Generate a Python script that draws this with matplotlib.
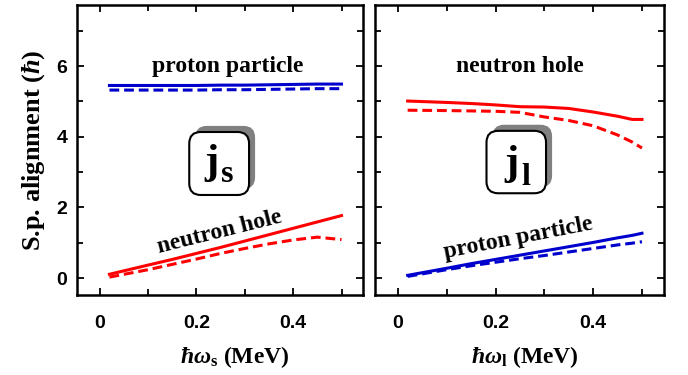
import numpy as np
import matplotlib
matplotlib.use("Agg")
import matplotlib.pyplot as plt
from matplotlib.ticker import MultipleLocator
from matplotlib.patches import FancyBboxPatch

# fonts: Times-like serif for labels, Arial-like bold for tick numbers
plt.rcParams['font.family'] = ['Liberation Serif', 'DejaVu Serif']
plt.rcParams['font.weight'] = 'bold'
plt.rcParams['axes.labelweight'] = 'bold'
plt.rcParams['mathtext.fontset'] = 'custom'
plt.rcParams['mathtext.rm'] = 'Liberation Serif:bold'
plt.rcParams['mathtext.bf'] = 'Liberation Serif:bold'
plt.rcParams['mathtext.it'] = 'Liberation Serif:bold:italic'

# left panel (j_s)
x_s = [0.02, 0.1, 0.15, 0.2, 0.25, 0.3, 0.35, 0.4, 0.45, 0.5]
prot_s_full = [5.45, 5.45, 5.45, 5.45, 5.46, 5.46, 5.47, 5.48, 5.49, 5.49]
prot_s_dash = [5.32, 5.32, 5.32, 5.32, 5.33, 5.33, 5.34, 5.35, 5.36, 5.36]
neut_s_full = [0.11, 0.37, 0.53, 0.70, 0.87, 1.05, 1.23, 1.41, 1.59, 1.77]
neut_s_dash = [0.03, 0.24, 0.39, 0.54, 0.70, 0.84, 0.97, 1.08, 1.16, 1.09]

# right panel (j_l)
x_l = [0.02, 0.1, 0.15, 0.2, 0.25, 0.3, 0.35, 0.4, 0.45, 0.48, 0.5]
neut_l_full = [5.01, 4.97, 4.94, 4.90, 4.85, 4.84, 4.80, 4.70, 4.58, 4.49, 4.49]
neut_l_dash = [4.75, 4.74, 4.73, 4.72, 4.69, 4.56, 4.46, 4.31, 4.05, 3.85, 3.68]
prot_l_full = [0.08, 0.28, 0.41, 0.53, 0.65, 0.77, 0.89, 1.01, 1.14, 1.21, 1.27]
prot_l_dash = [0.05, 0.24, 0.35, 0.45, 0.55, 0.64, 0.74, 0.84, 0.94, 0.99, 1.03]

xticks = [0, 0.2, 0.4]
yticks = [0, 2, 4, 6]

RED = '#ff0000'
BLUE = '#0000cc'
lw = 2.2
dash = (0, (3.2, 1.6))

fig = plt.figure(figsize=(6.88, 3.75), dpi=100)
ax1 = fig.add_axes([0.112, 0.213, 0.416, 0.774])
ax2 = fig.add_axes([0.545, 0.213, 0.420, 0.774])

def style(ax, show_y):
    ax.set_xlim(-0.047, 0.545)
    ax.set_ylim(-0.48, 7.73)
    ax.set_xticks(xticks)
    ax.set_xticklabels(['0', '0.2', '0.4'])
    ax.set_yticks(yticks)
    ax.xaxis.set_minor_locator(MultipleLocator(0.1))
    ax.yaxis.set_minor_locator(MultipleLocator(1))
    ax.tick_params(which='both', direction='in', top=True, right=True, width=1.3)
    ax.tick_params(which='major', length=5)
    ax.tick_params(which='minor', length=4.2)
    ax.tick_params(axis='x', pad=14)
    ax.tick_params(axis='y', pad=7)
    for s in ax.spines.values():
        s.set_linewidth(1.8)
    for lab in ax.get_xticklabels() + ax.get_yticklabels():
        lab.set_fontfamily('Liberation Sans')
        lab.set_fontweight('bold')
        lab.set_fontsize(14)
    if not show_y:
        ax.set_yticklabels([])

def jbox(ax, x0, y0, w, h, sub, jx, jy, sy):
    # grey shadow shifted up-right, then white rounded box on top
    d = 0.021
    sh = FancyBboxPatch((x0 + d, y0 + d), w, h, boxstyle='round,pad=0,rounding_size=0.04',
                        transform=ax.transAxes, fc='#808080', ec='none', zorder=4)
    bx = FancyBboxPatch((x0, y0), w, h, boxstyle='round,pad=0,rounding_size=0.04',
                        transform=ax.transAxes, fc='white', ec='black', lw=1.5, zorder=5)
    ax.add_patch(sh)
    ax.add_patch(bx)
    ax.text(jx, jy, 'j', fontsize=31, ha='right', va='baseline',
            transform=ax.transAxes, zorder=6)
    ax.text(jx + 0.008, sy, sub, fontsize=23, ha='left', va='baseline',
            transform=ax.transAxes, zorder=6)

# left
ax1.plot(x_s, prot_s_full, color=BLUE, lw=lw)
ax1.plot(x_s, prot_s_dash, color=BLUE, lw=lw, ls=dash)
ax1.plot(x_s, neut_s_full, color=RED, lw=lw)
ax1.plot(x_s, neut_s_dash, color=RED, lw=lw, ls=dash)
style(ax1, True)
ax1.text(0.265, 6.0, 'proton particle', fontsize=17, ha='center', va='center')
ax1.text(0.247, 1.3, 'neutron hole', fontsize=17, ha='center', va='center', rotation=14)
jbox(ax1, 0.392, 0.345, 0.209, 0.217, 's', 0.495, 0.422, 0.390)
ax1.set_ylabel(r'S.p. alignment ($\hbar$)', fontsize=19, labelpad=7)
ax1.set_xlabel(r'$\hbar\omega_\mathbf{s}$ (MeV)', fontsize=17)
ax1.xaxis.set_label_coords(0.55, -0.17)

# right
ax2.plot(x_l, neut_l_full, color=RED, lw=lw)
ax2.plot(x_l, neut_l_dash, color=RED, lw=lw, ls=dash)
ax2.plot(x_l, prot_l_full, color=BLUE, lw=lw)
ax2.plot(x_l, prot_l_dash, color=BLUE, lw=lw, ls=dash)
style(ax2, False)
ax2.text(0.25, 6.0, 'neutron hole', fontsize=17, ha='center', va='center')
ax2.text(0.246, 1.12, 'proton particle', fontsize=17, ha='center', va='center', rotation=11)
jbox(ax2, 0.386, 0.351, 0.206, 0.215, 'l', 0.497, 0.419, 0.379)
ax2.set_xlabel(r'$\hbar\omega_\mathbf{l}$ (MeV)', fontsize=17)
ax2.xaxis.set_label_coords(0.52, -0.17)

fig.savefig('out.png', dpi=100)
